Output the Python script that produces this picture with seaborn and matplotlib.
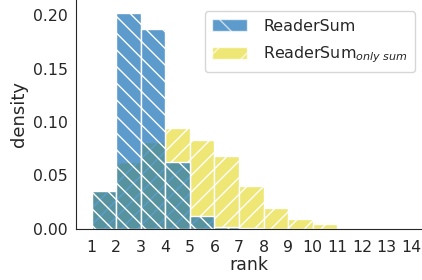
import numpy as np
import pandas as pd
import seaborn as sns
import matplotlib.pyplot as plt
from matplotlib.patches import Patch

# density per rank bin [k, k+1)
ranks = list(range(1, 15))
reader_sum = [0.0355, 0.202, 0.187, 0.0627, 0.012, 0.0015, 0.0004, 0, 0, 0, 0, 0, 0, 0]
reader_sum_only = [0.0355, 0.0627, 0.0815, 0.094, 0.083, 0.068, 0.040, 0.019, 0.009, 0.004, 0, 0.001, 0.001, 0]

blue = "#0f6cb4"
yellow = "#e8dd3a"

sns.set_style("white")
plt.rcParams['font.family'] = ['DejaVu Sans']
plt.rcParams['hatch.linewidth'] = 1.0

df = pd.DataFrame({'rank': ranks + ranks,
                   'density': reader_sum + reader_sum_only,
                   'method': ['ReaderSum'] * 14 + ['ReaderSum_only'] * 14})

fig = plt.figure(figsize=(4.22, 2.8), dpi=100)
ax = fig.add_axes([0.18, 0.183, 0.82, 0.817])

bins = list(range(1, 16))
only = df[df.method == 'ReaderSum_only']
full = df[df.method == 'ReaderSum']
sns.histplot(x=only['rank'], weights=only['density'], bins=bins,
             stat='count', color=yellow, alpha=0.7, edgecolor='white', linewidth=1,
             hatch='//', ax=ax)
sns.histplot(x=full['rank'], weights=full['density'], bins=bins,
             stat='count', color=blue, alpha=0.68, edgecolor='white', linewidth=1,
             hatch='\\\\', ax=ax)

ax.set_xlim(0.36, 14.45)
ax.set_ylim(0, 0.2143)
ax.set_xticks(ranks)
ax.set_yticks([0, 0.05, 0.10, 0.15, 0.20])
ax.set_yticklabels(['0.00', '0.05', '0.10', '0.15', '0.20'])
ax.tick_params(axis='y', labelsize=11.3, length=0, pad=6)
ax.tick_params(axis='x', labelsize=11.3, length=0, pad=8)
ax.set_xlabel('rank', fontsize=12.5, labelpad=1)
ax.set_ylabel('density', fontsize=13, labelpad=3)
sns.despine(ax=ax)

handles = [Patch(facecolor=blue, alpha=0.68, edgecolor='white', hatch='\\'),
           Patch(facecolor=yellow, alpha=0.7, edgecolor='white', hatch='/')]
ax.legend(handles, ['ReaderSum', 'ReaderSum$_{only\\ sum}$'], loc='upper right',
          fontsize=11.4, frameon=True, handlelength=2.25, handleheight=0.8,
          handletextpad=1.0, labelspacing=0.7, borderpad=0.45,
          borderaxespad=0, bbox_to_anchor=(0.98, 0.95))

fig.savefig('out.png', dpi=100)
